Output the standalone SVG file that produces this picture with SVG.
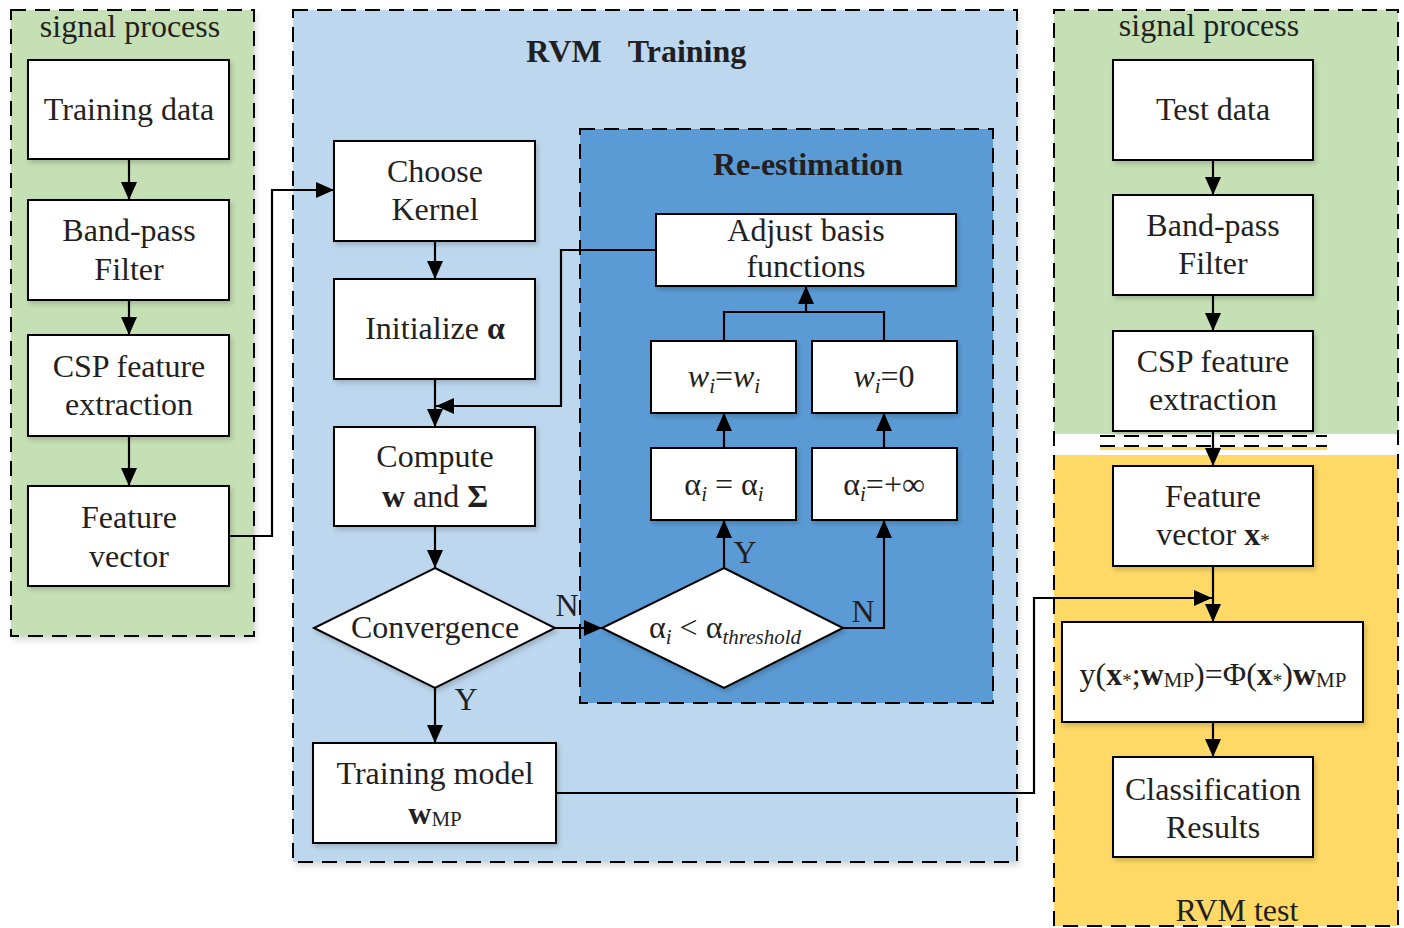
<svg xmlns="http://www.w3.org/2000/svg" width="1404" height="928" viewBox="0 0 1404 928">
<defs>
<style>
text{font-family:"Liberation Serif","Times New Roman",serif;font-size:32px;fill:#231F20;text-anchor:middle}
.b{font-weight:bold}
.it{font-style:italic}
.sub{font-size:21px}
.ast{font-size:19px}
.box{fill:#fff;stroke:#000;stroke-width:2;filter:url(#sh)}
.dash{fill:none;stroke:#000;stroke-width:2;stroke-dasharray:15 9}
.ln{fill:none;stroke:#000;stroke-width:2.2}
.ar{marker-end:url(#ah)}
</style>
<filter id="sh" x="-10%" y="-10%" width="125%" height="130%">
<feDropShadow dx="2" dy="3" stdDeviation="2.5" flood-color="#000" flood-opacity="0.18"/>
</filter>
<filter id="psh" x="-5%" y="-5%" width="110%" height="110%">
<feDropShadow dx="2" dy="4" stdDeviation="3" flood-color="#000" flood-opacity="0.15"/>
</filter>
<marker id="ah" viewBox="0 0 18 16" refX="18" refY="8" markerWidth="18" markerHeight="16" markerUnits="userSpaceOnUse" orient="auto">
<path d="M0,0 L18,8 L0,16 z" fill="#000"/>
</marker>
</defs>
<rect width="1404" height="928" fill="#fff"/>

<g id="panel-left">
<rect x="11" y="10" width="243" height="626" fill="#C5E0B4" filter="url(#psh)"/>
<rect x="11" y="10" width="243" height="626" class="dash"/>
<text x="130" y="37">signal process</text>
</g>

<g id="panel-train">
<rect x="293" y="10" width="724" height="852" fill="#BDD7EE" filter="url(#psh)"/>
<rect x="293" y="10" width="724" height="852" class="dash"/>
<text x="564" y="62" class="b">RVM</text>
<text x="687" y="62" class="b">Training</text>
</g>

<g id="panel-reest">
<rect x="580" y="129" width="413" height="574" fill="#5B9BD5"/>
<rect x="580" y="129" width="413" height="574" class="dash"/>
<text x="808" y="175" class="b">Re-estimation</text>
</g>

<g id="panel-right">
<rect x="1054" y="10" width="344" height="424" fill="#C5E0B4"/>
<rect x="1054" y="455" width="344" height="471" fill="#FFD966"/>
<line x1="1100" y1="448.5" x2="1327" y2="448.5" stroke="#FFD966" stroke-width="3"/>
<path d="M1054,926 L1054,10 L1398,10 L1398,926 L1054,926" class="dash"/>
<line x1="1100" y1="436" x2="1327" y2="436" class="dash"/>
<line x1="1100" y1="446" x2="1327" y2="446" class="dash"/>
<text x="1209" y="36">signal process</text>
<text x="1237" y="921">RVM test</text>
</g>

<g id="n-training-data"><rect x="28" y="60" width="201" height="99" class="box"/><text x="129" y="120">Training data</text></g>
<g id="n-bandpass-l"><rect x="28" y="200" width="201" height="100" class="box"/><text x="129" y="241">Band-pass</text><text x="129" y="280">Filter</text></g>
<g id="n-csp-l"><rect x="28" y="335" width="201" height="101" class="box"/><text x="129" y="377">CSP feature</text><text x="129" y="415">extraction</text></g>
<g id="n-feature-l"><rect x="28" y="486" width="201" height="100" class="box"/><text x="129" y="528">Feature</text><text x="129" y="567">vector</text></g>

<g id="n-kernel"><rect x="334" y="141" width="201" height="100" class="box"/><text x="435" y="182">Choose</text><text x="435" y="220">Kernel</text></g>
<g id="n-init"><rect x="334" y="279" width="201" height="100" class="box"/><text x="435" y="339">Initialize <tspan class="b">α</tspan></text></g>
<g id="n-compute"><rect x="334" y="427" width="201" height="99" class="box"/><text x="435" y="467">Compute</text><text x="435" y="507"><tspan class="b">w</tspan> and <tspan class="b">Σ</tspan></text></g>
<g id="n-conv"><path d="M435,568 L555,628 L435,688 L314,628 z" class="box"/><text x="435" y="638">Convergence</text></g>
<g id="n-model"><rect x="313" y="743" width="243" height="100" class="box"/><text x="435" y="784">Training model</text><text x="435" y="824"><tspan class="b">w</tspan><tspan class="sub" dy="2">MP</tspan></text></g>

<g id="n-adjust"><rect x="656" y="214" width="300" height="72" class="box"/><text x="806" y="241">Adjust basis</text><text x="806" y="277">functions</text></g>
<g id="n-wiwi"><rect x="651" y="341" width="145" height="72" class="box"/><text x="724" y="387"><tspan class="it">w</tspan><tspan class="it sub" dy="6">i</tspan><tspan dy="-6">=</tspan><tspan class="it">w</tspan><tspan class="it sub" dy="6">i</tspan></text></g>
<g id="n-wi0"><rect x="812" y="341" width="145" height="72" class="box"/><text x="884" y="387"><tspan class="it">w</tspan><tspan class="it sub" dy="6">i</tspan><tspan dy="-6">=0</tspan></text></g>
<g id="n-aiai"><rect x="651" y="448" width="145" height="72" class="box"/><text x="724" y="495">α<tspan class="it sub" dy="6">i</tspan><tspan dy="-6"> = α</tspan><tspan class="it sub" dy="6">i</tspan></text></g>
<g id="n-aiinf"><rect x="812" y="448" width="145" height="72" class="box"/><text x="884" y="495">α<tspan class="it sub" dy="6">i</tspan><tspan dy="-6">=+∞</tspan></text></g>
<g id="n-thresh"><path d="M724,568 L843,628 L724,688 L602,628 z" class="box"/><text x="725" y="638">α<tspan class="it sub" dy="6">i</tspan><tspan dy="-6"> &lt; α</tspan><tspan class="it sub" dy="6">threshold</tspan></text></g>

<g id="n-test-data"><rect x="1113" y="60" width="200" height="100" class="box"/><text x="1213" y="120">Test data</text></g>
<g id="n-bandpass-r"><rect x="1113" y="195" width="200" height="100" class="box"/><text x="1213" y="236">Band-pass</text><text x="1213" y="274">Filter</text></g>
<g id="n-csp-r"><rect x="1113" y="331" width="200" height="100" class="box"/><text x="1213" y="372">CSP feature</text><text x="1213" y="410">extraction</text></g>
<g id="n-feature-r"><rect x="1113" y="466" width="200" height="100" class="box"/><text x="1213" y="507">Feature</text><text x="1213" y="545">vector <tspan class="b">x</tspan><tspan class="ast" dy="2">*</tspan></text></g>
<g id="n-formula"><rect x="1062" y="622" width="301" height="100" class="box"/><text x="1213" y="685">y(<tspan class="b">x</tspan><tspan class="ast" dy="2">*</tspan><tspan dy="-2">;</tspan><tspan class="b">w</tspan><tspan class="sub" dy="2">MP</tspan><tspan dy="-2">)=Φ(</tspan><tspan class="b">x</tspan><tspan class="ast" dy="2">*</tspan><tspan dy="-2">)</tspan><tspan class="b">w</tspan><tspan class="sub" dy="2">MP</tspan></text></g>
<g id="n-class"><rect x="1113" y="757" width="200" height="100" class="box"/><text x="1213" y="800">Classification</text><text x="1213" y="838">Results</text></g>

<g id="connectors">
<line x1="129" y1="159" x2="129" y2="200" class="ln ar"/>
<line x1="129" y1="300" x2="129" y2="335" class="ln ar"/>
<line x1="129" y1="436" x2="129" y2="486" class="ln ar"/>
<polyline points="229,536 272,536 272,190 334,190" class="ln ar"/>
<line x1="435" y1="241" x2="435" y2="279" class="ln ar"/>
<line x1="435" y1="379" x2="435" y2="427" class="ln ar"/>
<polyline points="656,250 561,250 561,406 436,406" class="ln ar"/>
<line x1="435" y1="526" x2="435" y2="568" class="ln ar"/>
<line x1="435" y1="688" x2="435" y2="743" class="ln ar"/>
<line x1="555" y1="628" x2="602" y2="628" class="ln ar"/>
<line x1="724" y1="568" x2="724" y2="520" class="ln ar"/>
<polyline points="843,628 884,628 884,520" class="ln ar"/>
<line x1="724" y1="448" x2="724" y2="413" class="ln ar"/>
<line x1="884" y1="448" x2="884" y2="413" class="ln ar"/>
<polyline points="724,341 724,312 884,312 884,341" class="ln"/>
<line x1="806" y1="312" x2="806" y2="286" class="ln ar"/>
<polyline points="556,793 1034,793 1034,598 1212,598" class="ln ar"/>
<line x1="1213" y1="160" x2="1213" y2="195" class="ln ar"/>
<line x1="1213" y1="295" x2="1213" y2="331" class="ln ar"/>
<line x1="1213" y1="431" x2="1213" y2="466" class="ln ar"/>
<line x1="1213" y1="566" x2="1213" y2="622" class="ln ar"/>
<line x1="1213" y1="722" x2="1213" y2="757" class="ln ar"/>
<text x="567" y="616">N</text>
<text x="466" y="710">Y</text>
<text x="745" y="563">Y</text>
<text x="863" y="622">N</text>
</g>
</svg>
